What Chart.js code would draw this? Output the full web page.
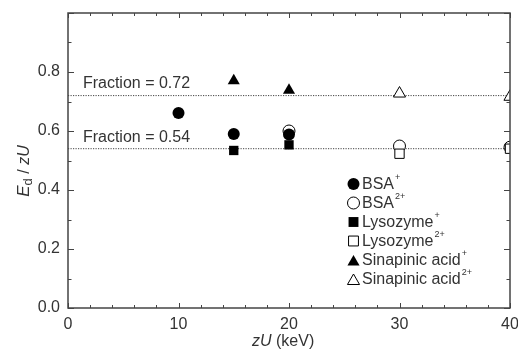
<!DOCTYPE html>
<html>
<head>
<meta charset="utf-8">
<script src="https://cdn.jsdelivr.net/npm/chart.js@4.4.7/dist/chart.umd.min.js"></script>
<style>
  html, body { margin: 0; padding: 0; background: #fff; }
  canvas { display: block; }
</style>
</head>
<body>
<canvas id="chart" width="518" height="349"></canvas>
<script>
// values: Ed / zU against zU (keV)
const bsa1X = [10, 15, 20];
const bsa1Y = [0.661, 0.59, 0.588];
const bsa2X = [20, 30, 40];
const bsa2Y = [0.6, 0.549, 0.545];
const lyso1X = [15, 20];
const lyso1Y = [0.534, 0.553];
const lyso2X = [30, 40];
const lyso2Y = [0.523, 0.54];
const sina1X = [15, 20];
const sina1Y = [0.77, 0.738];
const sina2X = [30, 40];
const sina2Y = [0.727, 0.716];

const fractions = [0.72, 0.54];
const fractionLabels = ["Fraction = 0.72", "Fraction = 0.54"];
// label anchor in data units (left x, baseline y)
const fractionLabelX = 1.35;
const fractionLabelY = [0.746, 0.563];

const legendNames = ["BSA", "BSA", "Lysozyme", "Lysozyme", "Sinapinic acid", "Sinapinic acid"];
const legendCharges = ["+", "2+", "+", "2+", "+", "2+"];

const FONT = "'Liberation Sans', Arial, sans-serif";
const TEXT = "#333";
const AXIS = "#444";

const pts = (xs, ys) => xs.map((x, i) => ({ x, y: ys[i] }));

function markerSet(label, xs, ys, style, radius, filled, order) {
  return {
    type: "scatter",
    label,
    data: pts(xs, ys),
    pointStyle: style,
    pointRadius: radius,
    pointHoverRadius: radius,
    pointBackgroundColor: filled ? "#000" : "#fff",
    pointBorderColor: "#000",
    pointBorderWidth: filled ? 0 : 1,
    order,
  };
}

const markers = [
  markerSet("BSA+", bsa1X, bsa1Y, "circle", 6, true, 1),
  markerSet("BSA2+", bsa2X, bsa2Y, "circle", 6, false, 3),
  markerSet("Lysozyme+", lyso1X, lyso1Y, "rect", 6.6, true, 4),
  markerSet("Lysozyme2+", lyso2X, lyso2Y, "rect", 6.6, false, 2),
  markerSet("Sinapinic acid+", sina1X, sina1Y, "triangle", 7, true, 4),
  markerSet("Sinapinic acid2+", sina2X, sina2Y, "triangle", 7, false, 4),
];

const fractionLines = fractions.map((f) => ({
  type: "line",
  label: "fraction " + f,
  data: [{ x: 0, y: f }, { x: 40, y: f }],
  borderColor: AXIS,
  borderWidth: 1,
  borderDash: [1.2, 1.3],
  pointRadius: 0,
  order: 10,
}));

function drawRuns(ctx, runs, x, y) {
  let cx = x;
  runs.forEach((r) => {
    ctx.font = r.font;
    ctx.fillText(r.text, cx, y + (r.dy || 0));
    cx += ctx.measureText(r.text).width + (r.gap || 0);
  });
  return cx;
}

function runsWidth(ctx, runs) {
  return runs.reduce((w, r) => {
    ctx.font = r.font;
    return w + ctx.measureText(r.text).width + (r.gap || 0);
  }, 0);
}

const framePlugin = {
  id: "frame",
  afterDatasetsDraw(chart) {
    const { ctx, chartArea: a, scales } = chart;
    ctx.save();
    ctx.strokeStyle = AXIS;
    ctx.lineWidth = 1.5;
    ctx.strokeRect(a.left, a.top, a.right - a.left, a.bottom - a.top);
    ctx.lineWidth = 1;
    ctx.beginPath();
    for (let i = 0; i <= 20; i++) {
      const v = i * 2;
      const px = Math.round(scales.x.getPixelForValue(v)) + 0.5;
      const len = v % 10 === 0 ? 5 : 3;
      ctx.moveTo(px, a.bottom);
      ctx.lineTo(px, a.bottom - len);
      ctx.moveTo(px, a.top);
      ctx.lineTo(px, a.top + len);
    }
    for (let i = 0; i <= 10; i++) {
      const py = Math.round(scales.y.getPixelForValue(i / 10)) + 0.5;
      const len = i % 2 === 0 ? 6 : 3.5;
      ctx.moveTo(a.left, py);
      ctx.lineTo(a.left + len, py);
      ctx.moveTo(a.right, py);
      ctx.lineTo(a.right - len, py);
    }
    ctx.stroke();
    ctx.restore();
  },
  afterDraw(chart) {
    const { ctx, scales } = chart;
    ctx.save();
    ctx.fillStyle = TEXT;
    ctx.textBaseline = "alphabetic";
    ctx.textAlign = "left";

    // fraction labels
    ctx.font = "16px " + FONT;
    fractionLabels.forEach((t, i) => {
      ctx.fillText(
        t,
        scales.x.getPixelForValue(fractionLabelX),
        scales.y.getPixelForValue(fractionLabelY[i]),
      );
    });

    // legend
    const lx = 353.5;
    const ly = 184;
    const styles = ["circle", "circle", "rect", "rect", "triangle", "triangle"];
    legendNames.forEach((name, i) => {
      const y = ly + i * 19;
      const filled = i % 2 === 0;
      ctx.fillStyle = filled ? "#000" : "#fff";
      ctx.strokeStyle = "#000";
      const r = styles[i] === "circle" ? 6 : 7;
      Chart.helpers.drawPoint(
        ctx,
        { pointStyle: styles[i], radius: r, borderWidth: filled ? 0 : 1, rotation: 0 },
        lx,
        styles[i] === "triangle" ? y + 2 : y,
      );
      ctx.fillStyle = TEXT;
      drawRuns(
        ctx,
        [
          { text: name, font: "16px " + FONT, gap: 1 },
          { text: legendCharges[i], font: "9px " + FONT, dy: -9 },
        ],
        362,
        y + 5,
      );
    });

    // x axis title
    ctx.fillStyle = TEXT;
    const xRuns = [
      { text: "zU", font: "italic 16px " + FONT },
      { text: " (keV)", font: "16px " + FONT },
    ];
    drawRuns(ctx, xRuns, 252, 346);

    // y axis title, rotated
    const yRuns = [
      { text: "E", font: "italic 17px " + FONT },
      { text: "d", font: "13px " + FONT, dy: 3 },
      { text: " / ", font: "16px " + FONT },
      { text: "zU", font: "italic 16px " + FONT },
    ];
    const w = runsWidth(ctx, yRuns);
    ctx.translate(29, 171);
    ctx.rotate(-Math.PI / 2);
    drawRuns(ctx, yRuns, -w / 2, 0);
    ctx.restore();
  },
};

new Chart(document.getElementById("chart"), {
  data: { datasets: [...markers, ...fractionLines] },
  options: {
    responsive: false,
    animation: false,
    events: [],
    layout: { padding: { left: 0, right: 3, top: 13, bottom: 0 } },
    plugins: { legend: { display: false }, tooltip: { enabled: false } },
    scales: {
      x: {
        type: "linear",
        min: 0,
        max: 40,
        grid: { display: false, drawTicks: false },
        border: { display: false },
        ticks: {
          stepSize: 10,
          padding: 7,
          color: TEXT,
          font: { family: FONT, size: 16 },
          maxRotation: 0,
        },
        afterFit(scale) {
          scale.height = 41;
          scale.paddingLeft = 0;
          scale.paddingRight = 0;
        },
      },
      y: {
        type: "linear",
        min: 0,
        max: 1,
        grid: { display: false, drawTicks: false },
        border: { display: false },
        ticks: {
          stepSize: 0.2,
          padding: 8,
          color: TEXT,
          font: { family: FONT, size: 16 },
          callback: (v) => (v < 0.95 ? v.toFixed(1) : ""),
        },
        afterFit(scale) {
          scale.width = 68;
          scale.paddingTop = 0;
          scale.paddingBottom = 0;
        },
      },
    },
  },
  plugins: [framePlugin],
});
</script>
</body>
</html>
